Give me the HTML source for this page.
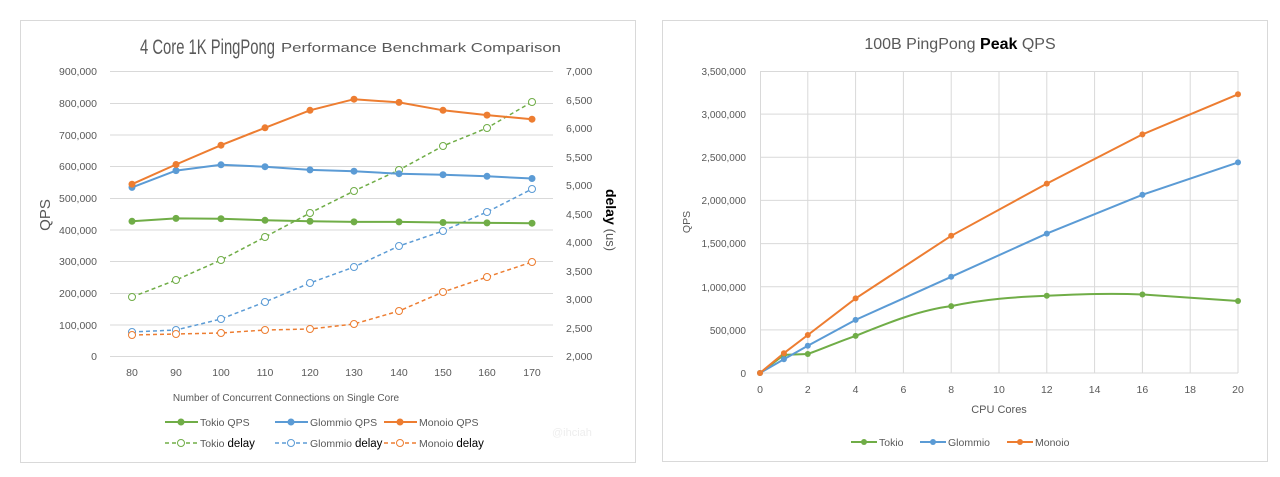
<!DOCTYPE html>
<html><head><meta charset="utf-8"><style>
body{margin:0;background:#fff;width:1280px;height:472px;overflow:hidden}
svg{font-family:"Liberation Sans",sans-serif}
</style></head><body>
<svg width="1280" height="472" viewBox="0 0 1280 472">
<rect x="20.5" y="20.5" width="615" height="442" fill="#fff" stroke="#d9d9d9"/>
<rect x="662.5" y="20.5" width="605" height="441" fill="#fff" stroke="#d9d9d9"/>
<!-- LEFT -->
<g stroke="#d9d9d9" stroke-width="1">
<line x1="110" x2="553" y1="71.5" y2="71.5"/><line x1="110" x2="553" y1="103.5" y2="103.5"/><line x1="110" x2="553" y1="135" y2="135"/><line x1="110" x2="553" y1="166.5" y2="166.5"/><line x1="110" x2="553" y1="198.5" y2="198.5"/><line x1="110" x2="553" y1="230" y2="230"/><line x1="110" x2="553" y1="261.5" y2="261.5"/><line x1="110" x2="553" y1="293.5" y2="293.5"/><line x1="110" x2="553" y1="325" y2="325"/><line x1="110" x2="553" y1="356.5" y2="356.5"/>
</g>
<text x="140" y="54" font-size="21" fill="#595959" textLength="135" lengthAdjust="spacingAndGlyphs">4 Core 1K PingPong</text>
<text x="281" y="52" font-size="13" fill="#595959" textLength="280" lengthAdjust="spacingAndGlyphs">Performance Benchmark Comparison</text>
<g font-size="10.5" fill="#595959" text-anchor="end">
<text x="97" y="75">900,000</text><text x="97" y="107">800,000</text><text x="97" y="139">700,000</text><text x="97" y="170">600,000</text><text x="97" y="202">500,000</text><text x="97" y="234">400,000</text><text x="97" y="265">300,000</text><text x="97" y="297">200,000</text><text x="97" y="329">100,000</text><text x="97" y="360">0</text>
</g>
<g font-size="10.5" fill="#595959">
<text x="566" y="75">7,000</text><text x="566" y="104">6,500</text><text x="566" y="132">6,000</text><text x="566" y="161">5,500</text><text x="566" y="189">5,000</text><text x="566" y="218">4,500</text><text x="566" y="246">4,000</text><text x="566" y="275">3,500</text><text x="566" y="303">3,000</text><text x="566" y="332">2,500</text><text x="566" y="360">2,000</text>
</g>
<g font-size="10.5" fill="#595959" text-anchor="middle">
<text x="132" y="376">80</text><text x="176" y="376">90</text><text x="221" y="376">100</text><text x="265" y="376">110</text><text x="310" y="376">120</text><text x="354" y="376">130</text><text x="399" y="376">140</text><text x="443" y="376">150</text><text x="487" y="376">160</text><text x="532" y="376">170</text>
<text x="286" y="401" font-size="10">Number of Concurrent Connections on Single Core</text>
</g>
<text transform="translate(50,215) rotate(-90)" font-size="15" fill="#595959" text-anchor="middle">QPS</text>
<text transform="translate(606,220) rotate(90)" font-size="14" fill="#000" text-anchor="middle"><tspan font-weight="bold">delay</tspan> <tspan fill="#595959" font-size="13">(us)</tspan></text>
<g fill="none" stroke-width="1.5" stroke-dasharray="4,3">
<polyline stroke="#70ad47" points="132,297 176,280 221,260 265,237 310,213 354,191 399,170 443,146 487,128 532,102"/>
<polyline stroke="#5b9bd5" points="132,332 176,330 221,319 265,302 310,283 354,267 399,246 443,231 487,212 532,189"/>
<polyline stroke="#ed7d31" points="132,335 176,334 221,333 265,330 310,329 354,324 399,311 443,292 487,277 532,262"/>
</g>
<g fill="#fff" stroke-width="1">
<g stroke="#70ad47"><circle cx="132" cy="297" r="3.5"/><circle cx="176" cy="280" r="3.5"/><circle cx="221" cy="260" r="3.5"/><circle cx="265" cy="237" r="3.5"/><circle cx="310" cy="213" r="3.5"/><circle cx="354" cy="191" r="3.5"/><circle cx="399" cy="170" r="3.5"/><circle cx="443" cy="146" r="3.5"/><circle cx="487" cy="128" r="3.5"/><circle cx="532" cy="102" r="3.5"/></g>
<g stroke="#5b9bd5"><circle cx="132" cy="332" r="3.5"/><circle cx="176" cy="330" r="3.5"/><circle cx="221" cy="319" r="3.5"/><circle cx="265" cy="302" r="3.5"/><circle cx="310" cy="283" r="3.5"/><circle cx="354" cy="267" r="3.5"/><circle cx="399" cy="246" r="3.5"/><circle cx="443" cy="231" r="3.5"/><circle cx="487" cy="212" r="3.5"/><circle cx="532" cy="189" r="3.5"/></g>
<g stroke="#ed7d31"><circle cx="132" cy="335" r="3.5"/><circle cx="176" cy="334" r="3.5"/><circle cx="221" cy="333" r="3.5"/><circle cx="265" cy="330" r="3.5"/><circle cx="310" cy="329" r="3.5"/><circle cx="354" cy="324" r="3.5"/><circle cx="399" cy="311" r="3.5"/><circle cx="443" cy="292" r="3.5"/><circle cx="487" cy="277" r="3.5"/><circle cx="532" cy="262" r="3.5"/></g>
</g>
<g fill="none" stroke-width="2">
<polyline stroke="#70ad47" points="132,221.3 176,218.4 221,218.7 265,220.3 310,221.3 354,221.9 399,221.9 443,222.5 487,222.9 532,223.2"/>
<polyline stroke="#5b9bd5" points="132,187.4 176,170.6 221,164.8 265,166.7 310,169.9 354,171.2 399,173.7 443,174.7 487,176.3 532,178.5"/>
<polyline stroke="#ed7d31" points="132,184.2 176,164.5 221,145.2 265,127.8 310,110.3 354,99.2 399,102.4 443,110.3 487,115.1 532,119.2"/>
</g>
<g fill="#70ad47"><circle cx="132" cy="221.3" r="3.5"/><circle cx="176" cy="218.4" r="3.5"/><circle cx="221" cy="218.7" r="3.5"/><circle cx="265" cy="220.3" r="3.5"/><circle cx="310" cy="221.3" r="3.5"/><circle cx="354" cy="221.9" r="3.5"/><circle cx="399" cy="221.9" r="3.5"/><circle cx="443" cy="222.5" r="3.5"/><circle cx="487" cy="222.9" r="3.5"/><circle cx="532" cy="223.2" r="3.5"/></g>
<g fill="#5b9bd5"><circle cx="132" cy="187.4" r="3.5"/><circle cx="176" cy="170.6" r="3.5"/><circle cx="221" cy="164.8" r="3.5"/><circle cx="265" cy="166.7" r="3.5"/><circle cx="310" cy="169.9" r="3.5"/><circle cx="354" cy="171.2" r="3.5"/><circle cx="399" cy="173.7" r="3.5"/><circle cx="443" cy="174.7" r="3.5"/><circle cx="487" cy="176.3" r="3.5"/><circle cx="532" cy="178.5" r="3.5"/></g>
<g fill="#ed7d31"><circle cx="132" cy="184.2" r="3.5"/><circle cx="176" cy="164.5" r="3.5"/><circle cx="221" cy="145.2" r="3.5"/><circle cx="265" cy="127.8" r="3.5"/><circle cx="310" cy="110.3" r="3.5"/><circle cx="354" cy="99.2" r="3.5"/><circle cx="399" cy="102.4" r="3.5"/><circle cx="443" cy="110.3" r="3.5"/><circle cx="487" cy="115.1" r="3.5"/><circle cx="532" cy="119.2" r="3.5"/></g>
<!-- left legend -->
<g stroke-width="2">
<line x1="165" x2="198" y1="422" y2="422" stroke="#70ad47"/><circle cx="181" cy="422" r="3.5" fill="#70ad47"/>
<line x1="275" x2="308" y1="422" y2="422" stroke="#5b9bd5"/><circle cx="291" cy="422" r="3.5" fill="#5b9bd5"/>
<line x1="384" x2="417" y1="422" y2="422" stroke="#ed7d31"/><circle cx="400" cy="422" r="3.5" fill="#ed7d31"/>
</g>
<g stroke-width="1.5" stroke-dasharray="4,3" fill="none">
<line x1="165" x2="198" y1="443" y2="443" stroke="#70ad47"/>
<line x1="275" x2="308" y1="443" y2="443" stroke="#5b9bd5"/>
<line x1="384" x2="417" y1="443" y2="443" stroke="#ed7d31"/>
</g>
<circle cx="181" cy="443" r="3.5" fill="#fff" stroke="#70ad47"/><circle cx="291" cy="443" r="3.5" fill="#fff" stroke="#5b9bd5"/><circle cx="400" cy="443" r="3.5" fill="#fff" stroke="#ed7d31"/>
<g font-size="10.5" fill="#595959">
<text x="200" y="426">Tokio QPS</text><text x="310" y="426">Glommio QPS</text><text x="419" y="426">Monoio QPS</text>
<text x="200" y="447">Tokio <tspan fill="#000" font-size="11.5">delay</tspan></text><text x="310" y="447">Glommio <tspan fill="#000" font-size="11.5">delay</tspan></text><text x="419" y="447">Monoio <tspan fill="#000" font-size="11.5">delay</tspan></text>
</g>
<text x="552" y="436" font-size="11" fill="#eeeeee">@ihciah</text>
<!-- RIGHT -->
<g stroke="#d9d9d9" stroke-width="1">
<line x1="760" x2="1238" y1="71.5" y2="71.5"/><line x1="760" x2="1238" y1="114.1" y2="114.1"/><line x1="760" x2="1238" y1="157.3" y2="157.3"/><line x1="760" x2="1238" y1="200.4" y2="200.4"/><line x1="760" x2="1238" y1="243.6" y2="243.6"/><line x1="760" x2="1238" y1="286.7" y2="286.7"/><line x1="760" x2="1238" y1="329.9" y2="329.9"/><line x1="760" x2="1238" y1="373" y2="373"/>
<line x1="760.5" x2="760.5" y1="71" y2="373"/><line x1="807.8" x2="807.8" y1="71" y2="373"/><line x1="855.6" x2="855.6" y1="71" y2="373"/><line x1="903.4" x2="903.4" y1="71" y2="373"/><line x1="951.2" x2="951.2" y1="71" y2="373"/><line x1="999" x2="999" y1="71" y2="373"/><line x1="1046.8" x2="1046.8" y1="71" y2="373"/><line x1="1094.6" x2="1094.6" y1="71" y2="373"/><line x1="1142.4" x2="1142.4" y1="71" y2="373"/><line x1="1190.2" x2="1190.2" y1="71" y2="373"/><line x1="1238" x2="1238" y1="71" y2="373"/>
</g>
<text x="960" y="49" font-size="16" fill="#595959" text-anchor="middle">100B PingPong <tspan fill="#000" font-weight="bold">Peak</tspan> QPS</text>
<g font-size="10" fill="#595959" text-anchor="end">
<text x="746" y="75">3,500,000</text><text x="746" y="118">3,000,000</text><text x="746" y="161">2,500,000</text><text x="746" y="204">2,000,000</text><text x="746" y="247">1,500,000</text><text x="746" y="291">1,000,000</text><text x="746" y="334">500,000</text><text x="746" y="377">0</text>
</g>
<g font-size="10.5" fill="#595959" text-anchor="middle">
<text x="760" y="393">0</text><text x="807.8" y="393">2</text><text x="855.6" y="393">4</text><text x="903.4" y="393">6</text><text x="951.2" y="393">8</text><text x="999" y="393">10</text><text x="1046.8" y="393">12</text><text x="1094.6" y="393">14</text><text x="1142.4" y="393">16</text><text x="1190.2" y="393">18</text><text x="1238" y="393">20</text>
<text x="999" y="413" font-size="11">CPU Cores</text>
</g>
<text transform="translate(690,222) rotate(-90)" font-size="10.5" fill="#595959" text-anchor="middle">QPS</text>
<g fill="none" stroke-width="2">
<path stroke="#70ad47" d="M760,373 L783.9,354.9 L807.8,354 C825,348 840,341 855.6,335.9 C890,322 920,310 951.2,306.1 C985,299 1015,297 1046.8,295.8 C1080,294 1110,293 1142.4,294.5 C1180,297 1210,299 1238,301"/>
<polyline stroke="#5b9bd5" points="760,373 783.9,359.2 807.8,345.8 855.6,319.9 951.2,276.8 1046.8,233.6 1142.4,194.8 1238,162.4"/>
<polyline stroke="#ed7d31" points="760,373 783.9,353.2 807.8,335 855.6,298.4 951.2,235.8 1046.8,183.6 1142.4,134.4 1238,94.3"/>
</g>
<g fill="#70ad47"><circle cx="760" cy="373" r="3"/><circle cx="783.9" cy="354.9" r="3"/><circle cx="807.8" cy="354" r="3"/><circle cx="855.6" cy="335.9" r="3"/><circle cx="951.2" cy="306.1" r="3"/><circle cx="1046.8" cy="295.8" r="3"/><circle cx="1142.4" cy="294.5" r="3"/><circle cx="1238" cy="301" r="3"/></g>
<g fill="#5b9bd5"><circle cx="760" cy="373" r="3"/><circle cx="783.9" cy="359.2" r="3"/><circle cx="807.8" cy="345.8" r="3"/><circle cx="855.6" cy="319.9" r="3"/><circle cx="951.2" cy="276.8" r="3"/><circle cx="1046.8" cy="233.6" r="3"/><circle cx="1142.4" cy="194.8" r="3"/><circle cx="1238" cy="162.4" r="3"/></g>
<g fill="#ed7d31"><circle cx="760" cy="373" r="3"/><circle cx="783.9" cy="353.2" r="3"/><circle cx="807.8" cy="335" r="3"/><circle cx="855.6" cy="298.4" r="3"/><circle cx="951.2" cy="235.8" r="3"/><circle cx="1046.8" cy="183.6" r="3"/><circle cx="1142.4" cy="134.4" r="3"/><circle cx="1238" cy="94.3" r="3"/></g>
<g stroke-width="2">
<line x1="851" x2="877" y1="442" y2="442" stroke="#70ad47"/><circle cx="864" cy="442" r="3" fill="#70ad47"/>
<line x1="920" x2="946" y1="442" y2="442" stroke="#5b9bd5"/><circle cx="933" cy="442" r="3" fill="#5b9bd5"/>
<line x1="1007" x2="1033" y1="442" y2="442" stroke="#ed7d31"/><circle cx="1020" cy="442" r="3" fill="#ed7d31"/>
</g>
<g font-size="10.5" fill="#595959">
<text x="879" y="446">Tokio</text><text x="948" y="446">Glommio</text><text x="1035" y="446">Monoio</text>
</g>
</svg>
</body></html>
